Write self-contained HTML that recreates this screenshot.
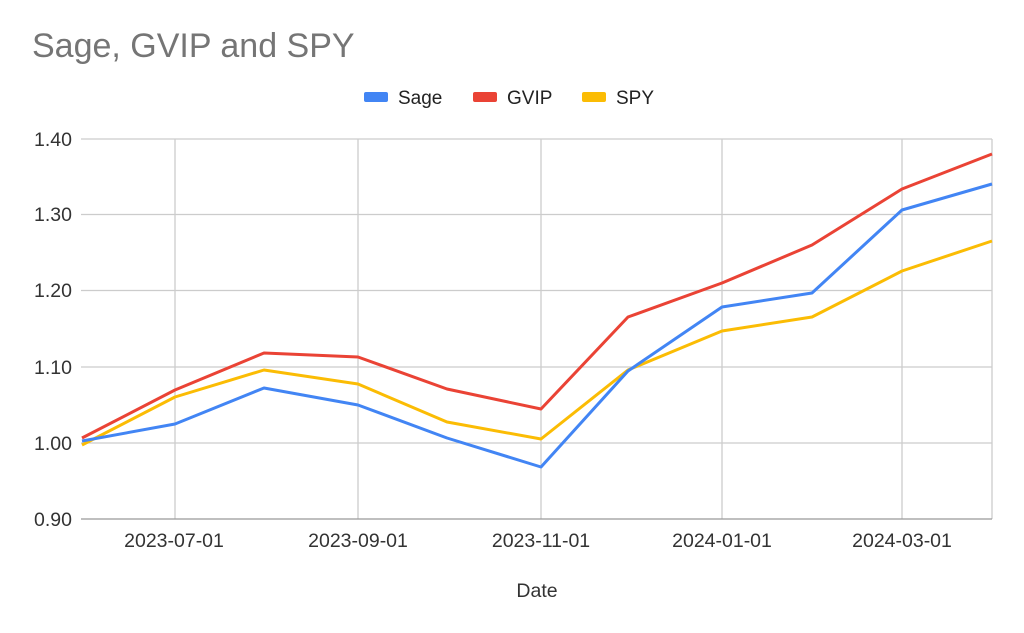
<!DOCTYPE html>
<html><head><meta charset="utf-8"><style>
html,body{margin:0;padding:0;background:#fff;}
svg{display:block;font-family:"Liberation Sans",Arial,sans-serif;}
</style></head><body>
<svg width="1024" height="633" viewBox="0 0 1024 633">
<rect width="1024" height="633" fill="#fff"/>
<text x="32" y="57" font-size="34" fill="#757575">Sage, GVIP and SPY</text>
<g font-size="19" fill="#222">
<rect x="364" y="92" width="24" height="10" rx="2" fill="#4285f4"/><text x="398" y="104">Sage</text>
<rect x="473" y="92" width="24" height="10" rx="2" fill="#ea4335"/><text x="507" y="104">GVIP</text>
<rect x="582" y="92" width="24" height="10" rx="2" fill="#fbbc04"/><text x="616" y="104">SPY</text>
</g>
<g stroke="#cccccc" stroke-width="1.3">
<line x1="81" y1="139" x2="992" y2="139"/>
<line x1="81" y1="214.5" x2="992" y2="214.5"/>
<line x1="81" y1="290.5" x2="992" y2="290.5"/>
<line x1="81" y1="367" x2="992" y2="367"/>
<line x1="81" y1="443" x2="992" y2="443"/>
<line x1="175" y1="139" x2="175" y2="519"/>
<line x1="358" y1="139" x2="358" y2="519"/>
<line x1="541" y1="139" x2="541" y2="519"/>
<line x1="722" y1="139" x2="722" y2="519"/>
<line x1="902" y1="139" x2="902" y2="519"/>
<line x1="992" y1="139" x2="992" y2="519"/>
</g>
<line x1="81" y1="519" x2="992" y2="519" stroke="#999" stroke-width="1.3"/>
<g font-size="19.5" fill="#333" text-anchor="end">
<text x="72" y="146">1.40</text>
<text x="72" y="221">1.30</text>
<text x="72" y="297">1.20</text>
<text x="72" y="374">1.10</text>
<text x="72" y="450">1.00</text>
<text x="72" y="526">0.90</text>
</g>
<g font-size="19.5" fill="#333" text-anchor="middle">
<text x="174" y="547">2023-07-01</text>
<text x="358" y="547">2023-09-01</text>
<text x="541" y="547">2023-11-01</text>
<text x="722" y="547">2024-01-01</text>
<text x="902" y="547">2024-03-01</text>
<text x="537" y="597">Date</text>
</g>
<g fill="none" stroke-width="3" stroke-linejoin="round">
<polyline stroke="#fbbc04" points="82,445 175,397 264,370 358,384 447,422 541,439 628,370 722,331 812,317 902,271 992,241"/>
<polyline stroke="#4285f4" points="82,441 175,424 264,388 358,405 447,438 541,467 628,371 722,307 812,293 902,210 992,184"/>
<polyline stroke="#ea4335" points="82,438 175,390 264,353 358,357 447,389 541,409 628,317 722,283 812,245 902,189 992,154"/>
</g>
</svg>
</body></html>
